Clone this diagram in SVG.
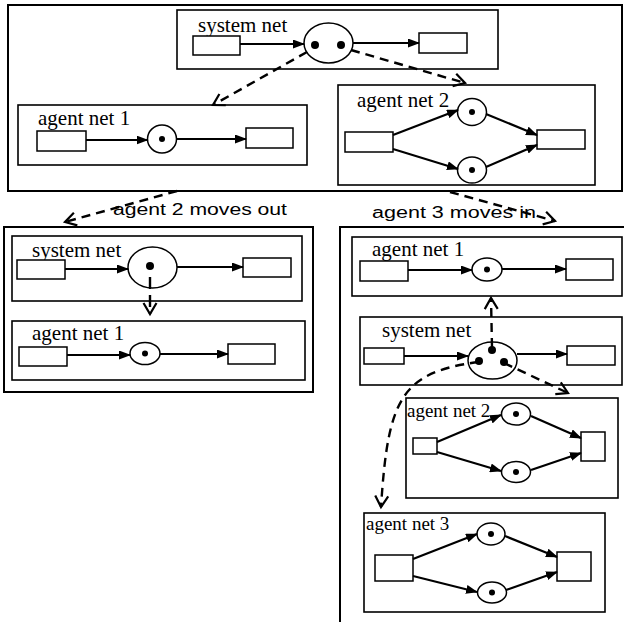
<svg xmlns="http://www.w3.org/2000/svg" width="624" height="622" viewBox="0 0 624 622">
<defs>
<marker id="ah" markerUnits="userSpaceOnUse" markerWidth="12" markerHeight="9" refX="11" refY="4.5" orient="auto">
<path d="M0,0 L12,4.5 L0,9 z" fill="#000"/>
</marker>
<marker id="va" markerUnits="userSpaceOnUse" markerWidth="16" markerHeight="16" refX="13" refY="8" orient="auto" overflow="visible">
<path d="M2,1.5 L13,8 L2,14.5" fill="none" stroke="#000" stroke-width="2.2" stroke-dasharray="none"/>
</marker>
</defs>
<style>
.box{fill:#fff;stroke:#000;stroke-width:1.6}
.obox{fill:none;stroke:#000;stroke-width:2}
.tr{fill:#fff;stroke:#000;stroke-width:1.5}
.pl{fill:#fff;stroke:#000;stroke-width:1.5}
.tk{fill:#000}
.lbl{font-family:"Liberation Serif","Times New Roman",serif;font-size:21px;fill:#000}
.lbs{font-family:"Liberation Serif","Times New Roman",serif;font-size:19px;fill:#000}
.mv{font-family:"Liberation Sans",Arial,sans-serif;font-size:16px;fill:#000}
.arc{fill:none;stroke:#000;stroke-width:2.2;marker-end:url(#ah)}
.dash{fill:none;stroke:#000;stroke-width:2.4;stroke-dasharray:9 6;marker-end:url(#va)}
</style>
<rect width="624" height="622" fill="#fff"/>

<!-- top state -->
<g id="top-state">
<rect class="obox" x="8" y="5" width="614" height="186"/>
</g>
<g id="top-system-net">
<rect class="box" x="177" y="10" width="321" height="59"/>
<text class="lbl" x="198" y="32">system net</text>
<rect class="tr" x="193" y="36" width="47" height="19"/>
<ellipse class="pl" cx="328.5" cy="43" rx="24.5" ry="20"/>
<circle class="tk" cx="315" cy="45" r="4"/>
<circle class="tk" cx="341" cy="45" r="4"/>
<rect class="tr" x="419" y="33" width="48" height="20"/>
</g>
<g id="top-agent-net-1">
<rect class="box" x="18" y="105" width="289" height="60"/>
<text class="lbl" x="38" y="125">agent net 1</text>
<rect class="tr" x="37" y="131" width="49" height="20"/>
<ellipse class="pl" cx="162" cy="139" rx="14.5" ry="14"/>
<circle class="tk" cx="162" cy="139" r="3"/>
<rect class="tr" x="246" y="128" width="47" height="20"/>
</g>
<g id="top-agent-net-2">
<rect class="box" x="338" y="85" width="257" height="100"/>
<text class="lbl" x="357" y="107">agent net 2</text>
<rect class="tr" x="345" y="132" width="48" height="20"/>
<ellipse class="pl" cx="472" cy="112" rx="14.5" ry="13.5"/>
<circle class="tk" cx="472" cy="112" r="3"/>
<ellipse class="pl" cx="472" cy="170" rx="14.5" ry="13"/>
<circle class="tk" cx="472" cy="170" r="3"/>
<rect class="tr" x="537" y="130" width="48" height="19"/>
</g>

<!-- lower-left state -->
<g id="left-state">
<rect class="obox" x="4" y="227" width="309" height="165"/>
</g>
<g id="left-system-net">
<rect class="box" x="12" y="236" width="290" height="65"/>
<text class="lbl" x="32" y="257">system net</text>
<rect class="tr" x="17" y="260" width="48" height="19"/>
<ellipse class="pl" cx="152.5" cy="267.5" rx="24.5" ry="20.5"/>
<circle class="tk" cx="150" cy="266" r="4"/>
<rect class="tr" x="243" y="258" width="48" height="19"/>
</g>
<g id="left-agent-net-1">
<rect class="box" x="12" y="321" width="293" height="59"/>
<text class="lbl" x="32" y="340">agent net 1</text>
<rect class="tr" x="19" y="347" width="48" height="19"/>
<ellipse class="pl" cx="145" cy="353.5" rx="15" ry="11"/>
<circle class="tk" cx="145" cy="353.5" r="3"/>
<rect class="tr" x="228" y="344" width="47" height="20"/>
</g>

<!-- right state -->
<g id="right-state">
<rect class="obox" x="340" y="227" width="300" height="420"/>
</g>
<g id="right-agent-net-1">
<rect class="box" x="352" y="237" width="270" height="59"/>
<text class="lbl" x="372" y="256">agent net 1</text>
<rect class="tr" x="360" y="261" width="48" height="20"/>
<ellipse class="pl" cx="487" cy="269.5" rx="15" ry="11.5"/>
<circle class="tk" cx="487" cy="269.5" r="3"/>
<rect class="tr" x="566" y="259" width="47" height="21"/>
</g>
<g id="right-system-net">
<rect class="box" x="360" y="317" width="262" height="68"/>
<text class="lbl" x="382" y="337">system net</text>
<rect class="tr" x="364" y="348" width="40" height="16"/>
<ellipse class="pl" cx="492.5" cy="360.5" rx="24.5" ry="18.5"/>
<circle class="tk" cx="492" cy="350" r="4"/>
<circle class="tk" cx="479" cy="361" r="4"/>
<circle class="tk" cx="504" cy="362" r="4"/>
<rect class="tr" x="567" y="346" width="48" height="19"/>
</g>
<g id="right-agent-net-2">
<rect class="box" x="406" y="398" width="212" height="100"/>
<text class="lbs" x="407" y="417">agent net 2</text>
<rect class="tr" x="413" y="438" width="24" height="16"/>
<ellipse class="pl" cx="516" cy="414" rx="14.5" ry="11"/>
<circle class="tk" cx="516" cy="414" r="3"/>
<ellipse class="pl" cx="516" cy="472" rx="14.5" ry="10.5"/>
<circle class="tk" cx="516" cy="472" r="3"/>
<rect class="tr" x="581" y="432" width="24" height="29"/>
</g>
<g id="right-agent-net-3">
<rect class="box" x="364" y="513" width="241" height="99"/>
<text class="lbs" x="366" y="530">agent net 3</text>
<rect class="tr" x="375" y="555" width="38" height="26"/>
<ellipse class="pl" cx="491" cy="534" rx="14" ry="11"/>
<circle class="tk" cx="491" cy="534" r="3"/>
<ellipse class="pl" cx="492" cy="592.5" rx="14.5" ry="10.5"/>
<circle class="tk" cx="492" cy="592.5" r="3"/>
<rect class="tr" x="557" y="552" width="34" height="29"/>
</g>

<g id="labels">
<text class="mv" x="113" y="215" textLength="174" lengthAdjust="spacingAndGlyphs">agent 2 moves out</text>
<text class="mv" x="372" y="218" textLength="164" lengthAdjust="spacingAndGlyphs">agent 3 moves in</text>
</g>

<g id="connectors">
<!-- top system net -->
<path class="arc" d="M240,44 L304,44"/>
<path class="arc" d="M353,43 L419,43"/>
<!-- top agent net 1 -->
<path class="arc" d="M86,140 L147.5,140"/>
<path class="arc" d="M176.5,139 L246,139"/>
<!-- top agent net 2 -->
<path class="arc" d="M393,135 L458,110"/>
<path class="arc" d="M393,149 L458,169"/>
<path class="arc" d="M486,114 L537,135"/>
<path class="arc" d="M486,167 L537,145"/>
<!-- left system net -->
<path class="arc" d="M65,269 L128,269"/>
<path class="arc" d="M177,267 L243,267"/>
<!-- left agent net 1 -->
<path class="arc" d="M67,355 L130,355"/>
<path class="arc" d="M160,354 L228,354"/>
<!-- right agent net 1 -->
<path class="arc" d="M408,270 L472,270"/>
<path class="arc" d="M502,269 L566,269"/>
<!-- right system net -->
<path class="arc" d="M404,356 L468,356"/>
<path class="arc" d="M517,354 L567,354"/>
<!-- right agent net 2 -->
<path class="arc" d="M437,442 L501,415"/>
<path class="arc" d="M437,452 L501,471"/>
<path class="arc" d="M531,416 L581,438"/>
<path class="arc" d="M531,470 L581,453"/>
<!-- right agent net 3 -->
<path class="arc" d="M413,559 L477,534"/>
<path class="arc" d="M413,576 L477,592"/>
<path class="arc" d="M505,536 L557,557"/>
<path class="arc" d="M506,590 L557,572"/>

<!-- dashed token moves -->
<path class="dash" d="M307,52 L213,105"/>
<path class="dash" d="M351,50 L465,83"/>
<path class="dash" d="M177,191 L65,222"/>
<path class="dash" d="M450,192 L555,221"/>
<path class="dash" style="stroke-dasharray:12 6" d="M150,277 L150,314"/>
<path class="dash" d="M492,347 L491,298"/>
<path class="dash" d="M504,363 L568,393"/>
<path class="dash" d="M479,362 C400,372 388,400 381,507"/>
</g>
</svg>
